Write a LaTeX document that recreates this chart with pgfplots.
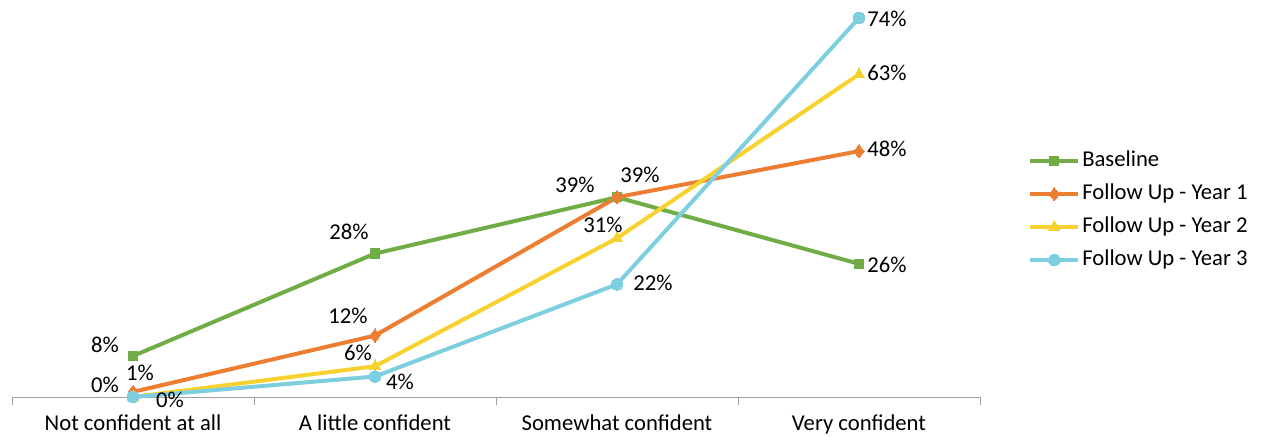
\documentclass[border=0pt]{standalone}
\usepackage{pgfplots}
\usepackage{pgfplotstable}
\pgfplotsset{compat=1.18}
\usepackage{fontspec}
\setmainfont{Carlito}
\definecolor{cB}{HTML}{70AD47}
\definecolor{cA}{HTML}{ED7D31}
\definecolor{cC}{HTML}{F7D12E}
\definecolor{cD}{HTML}{7DCFE0}
\definecolor{axgray}{HTML}{A0A0A0}

\pgfplotstableread{
x y
0 8
1 28
2 39
3 26
}\tbase
\pgfplotstableread{
x y
0 1
1 12
2 39
3 48
}\tone
\pgfplotstableread{
x y
0 0
1 6
2 31
3 63
}\ttwo
\pgfplotstableread{
x y
0 0
1 4
2 22
3 74
}\tthree

\newcommand\chartfont{\fontsize{17}{20}\selectfont}

% label offsets (pixels) per point: dx list, dy list
\pgfplotsset{lbl/.style 2 args={
  nodes near coords={\pgfmathprintnumber{\pgfplotspointmeta}\%},
  visualization depends on={\coordindex\as\idx},
  every node near coord/.append style={font=\chartfont, text=black, anchor=center, inner sep=0pt,
    /utils/exec={\pgfmathsetmacro\mydx{{#1}[\idx]}\pgfmathsetmacro\mydy{{#2}[\idx]}},
    xshift=\mydx*0.75pt, yshift=\mydy*0.75pt},
}}

\begin{document}
\begin{tikzpicture}
\useasboundingbox (0,0) rectangle (945.75pt,327pt);
\begin{axis}[
  at={(9pt,29.25pt)}, anchor=south west,
  scale only axis, width=726pt, height=297.75pt,
  xmin=-0.5, xmax=3.5, ymin=0, ymax=77.5,
  clip=false,
  axis x line=bottom, axis y line=none,
  axis line style={-, draw=axgray, line width=0.75pt},
  xtick={0,1,2,3},
  xticklabels={Not confident at all, A little confident, Somewhat confident, Very confident},
  major tick length=0pt,
  extra x ticks={-0.5,0.5,1.5,2.5,3.5},
  extra x tick labels={},
  extra x tick style={major tick length=6pt, xtick align=outside, tick style={draw=axgray, line width=0.75pt}},
  xticklabel style={font=\chartfont, yshift=-10pt},
  ytick=\empty,
  /pgf/number format/assume math mode=true,
  every axis plot/.append style={line width=3pt},
  legend style={at={(1.0496,0.4697)}, anchor=west, draw=none, fill=none, inner sep=0pt,
    font=\chartfont, row sep=8.75pt, column sep=1.5pt,
    nodes={inner sep=0pt, text height=12pt, text depth=4pt}},
  legend cell align=left,
  legend image code/.code={\draw[mark repeat=2,mark phase=2] plot coordinates {(0pt,0pt)(18pt,0pt)(36pt,0pt)};},
]
\addplot[color=cB, mark=square*, mark size=3.5pt, mark options={line width=0pt}, lbl={-28,-26,-42,28}{11,22,12,-1}] table[x=x,y=y,meta=y] {\tbase};
\addlegendentry{Baseline}
\addplot[color=cA, mark=diamond*, mark size=5pt, mark options={line width=0pt}, lbl={7,-27,23,28}{19,20,22,2}] table[x=x,y=y,meta=y] {\tone};
\addlegendentry{Follow Up - Year 1}
\addplot[color=cC, mark=triangle*, mark size=4.8pt, mark options={line width=0pt}, lbl={-28,-17,-14,28}{12,13,13,1}] table[x=x,y=y,meta=y] {\ttwo};
\addlegendentry{Follow Up - Year 2}
\addplot[color=cD, mark=*, mark size=4.3pt, mark options={line width=0pt}, lbl={37,25,36,28}{-3,-5,1,-1}] table[x=x,y=y,meta=y] {\tthree};
\addlegendentry{Follow Up - Year 3}
\end{axis}
\end{tikzpicture}
\end{document}
